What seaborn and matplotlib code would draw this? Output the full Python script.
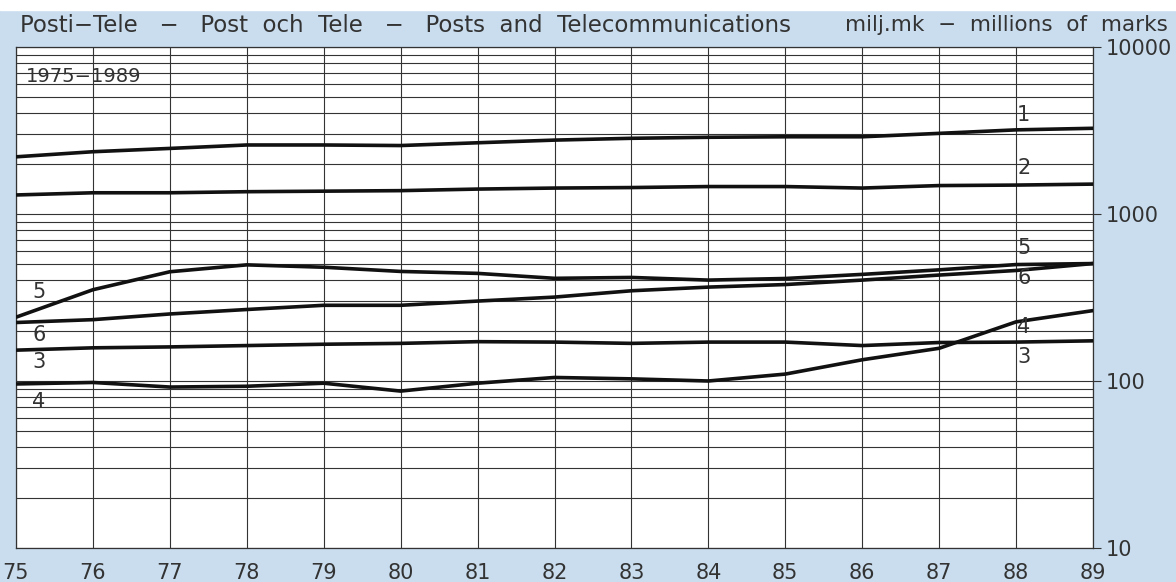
import seaborn as sns
import matplotlib.pyplot as plt
import matplotlib
import pandas as pd
import numpy as np
from matplotlib.ticker import LogLocator, NullFormatter, FixedLocator

# values (millions of marks)
years = [75, 76, 77, 78, 79, 80, 81, 82, 83, 84, 85, 86, 87, 88, 89]
series_1 = [2200, 2360, 2470, 2590, 2590, 2570, 2670, 2770, 2840, 2880, 2900, 2900, 3040, 3190, 3260]
series_2 = [1300, 1340, 1340, 1360, 1370, 1380, 1410, 1430, 1440, 1460, 1460, 1430, 1480, 1490, 1510]
series_3 = [153, 158, 160, 163, 166, 168, 172, 171, 168, 171, 171, 163, 170, 171, 174]
series_4 = [96, 98, 92, 93, 97, 87, 97, 105, 103, 100, 110, 134, 157, 226, 264]
series_5 = [241, 352, 451, 496, 480, 453, 441, 412, 417, 402, 411, 435, 463, 498, 505]
series_6 = [224, 233, 252, 268, 284, 284, 301, 318, 347, 365, 378, 402, 431, 459, 505]

title_left = "Posti\u2212Tele   \u2212   Post  och  Tele   \u2212   Posts  and  Telecommunications"
title_right = "milj.mk  \u2212  millions  of  marks"
period = "1975\u22121989"

# series number labels: (text, x, y)
labels_right = [("1", 88.1, 3900), ("2", 88.1, 1880), ("5", 88.1, 625),
                ("6", 88.1, 414), ("4", 88.1, 210), ("3", 88.1, 139)]
labels_left = [("5", 75.3, 341), ("6", 75.3, 188), ("3", 75.3, 130), ("4", 75.3, 75)]

df = pd.DataFrame({
    "year": years * 6,
    "value": series_1 + series_2 + series_3 + series_4 + series_5 + series_6,
    "series": sum([[s] * len(years) for s in ["1", "2", "3", "4", "5", "6"]], []),
})

sns.set_style("white")
plt.rcParams['font.family'] = ['DejaVu Sans']
bg = '#c9ddef'
ink = '#333333'

fig = plt.figure(figsize=(11.76, 5.82), dpi=100)
fig.patch.set_facecolor(bg)
fig.add_artist(matplotlib.patches.Rectangle((0, 1 - 10 / 582), 1, 10 / 582,
                                            transform=fig.transFigure, color='white', zorder=0))
ax = fig.add_axes([16 / 1176, 34 / 582, (1093 - 16) / 1176, (548 - 47) / 582])
ax.set_facecolor('white')

sns.lineplot(data=df, x='year', y='value', units='series', estimator=None,
             color='#111111', linewidth=2.6, ax=ax, zorder=3)

ax.set_yscale('log')
ax.set_ylim(10, 10000)
ax.set_xlim(75, 89)
ax.xaxis.set_major_locator(FixedLocator(years))
ax.yaxis.set_major_locator(FixedLocator([10, 100, 1000, 10000]))
ax.yaxis.set_major_formatter(matplotlib.ticker.FuncFormatter(lambda v, p: '%d' % v))
ax.yaxis.set_minor_locator(LogLocator(base=10, subs=np.arange(2, 10)))
ax.yaxis.set_minor_formatter(NullFormatter())
ax.yaxis.tick_right()

ax.grid(True, which='major', axis='both', color='#333333', linewidth=0.8)
ax.grid(True, which='minor', axis='y', color='#333333', linewidth=0.8)
ax.set_axisbelow(True)
for s in ax.spines.values():
    s.set_color('#333333')
    s.set_linewidth(0.9)

ax.tick_params(axis='y', which='major', right=True, length=6, width=0.8, color='#333333',
               labelsize=15, labelcolor=ink, pad=3)
ax.tick_params(axis='y', which='minor', right=False, left=False)
ax.tick_params(axis='x', bottom=False, labelsize=15, labelcolor=ink, pad=7)
ax.set_xlabel('')
ax.set_ylabel('')
if ax.get_legend() is not None:
    ax.get_legend().remove()

for txt, x, y in labels_right + labels_left:
    ax.text(x, y, txt, ha='center', va='center', fontsize=15, color=ink, zorder=4)
ax.text(75.13, 6700, period, ha='left', va='center', fontsize=14, color=ink, zorder=4)

fig.text(20 / 1176, 1 - 25 / 582, title_left, ha='left', va='center', fontsize=16.5, color=ink)
fig.text(1168 / 1176, 1 - 25 / 582, title_right, ha='right', va='center', fontsize=15.5, color=ink)

plt.savefig('out.png', dpi=100, facecolor=fig.get_facecolor())
